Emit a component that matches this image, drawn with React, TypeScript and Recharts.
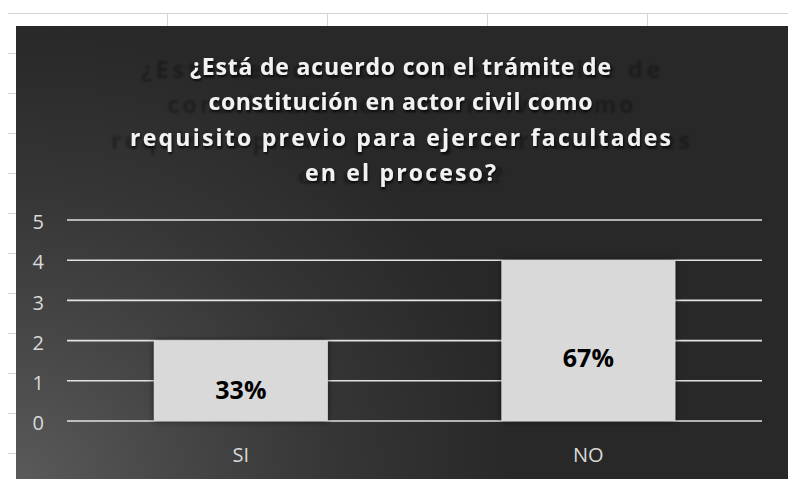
import { BarChart, Bar, XAxis, YAxis, CartesianGrid, LabelList } from 'recharts';

const categories = ['SI', 'NO'];
const counts = [2, 4];
const percentLabels = ['33%', '67%'];
const yTicks = [0, 1, 2, 3, 4, 5];
const titleLines = [
  '¿Está de acuerdo con el trámite de',
  'constitución en actor civil como',
  'requisito previo para ejercer facultades',
  'en el proceso?',
];

const data = categories.map((name, i) => ({ name, value: counts[i], pct: percentLabels[i] }));

const BOX_W = 775;
const BOX_H = 457;
const FONT = '"Open Sans", sans-serif';

const titleBase = [49, 84, 120, 155];
const titleWidth = [421, 384, 541, 191];
const ghostWidth = [519, 466, 579, 205];

const PctLabel = (props: any) => {
  const { x, y, width, height, value } = props;
  return (
    <text
      x={x + width / 2}
      y={y + height * 0.6}
      textAnchor="middle"
      dominantBaseline="central"
      fontFamily={FONT}
      fontWeight={700}
      fontSize={25}
      fill="#000"
    >
      {value}
    </text>
  );
};

const ShadowBar = (props: any) => {
  const { x, y, width, height, fill } = props;
  return <rect x={x} y={y} width={width} height={height} fill={fill} filter="url(#barShadow)" />;
};

export default function App() {
  return (
    <div style={{ position: 'relative', width: 796, height: 487, margin: -8, background: '#fff', overflow: 'hidden' }}>
      <svg width={0} height={0} style={{ position: 'absolute' }}>
        <defs>
          <filter id="barShadow" x="-10%" y="-10%" width="120%" height="120%">
            <feDropShadow dx={0} dy={0} stdDeviation={3} floodColor="#000" floodOpacity={0.55} />
          </filter>
          <filter id="titleShadow" x="-5%" y="-20%" width="110%" height="160%">
            <feDropShadow dx={1} dy={2} stdDeviation={1.2} floodColor="#000" floodOpacity={0.7} />
          </filter>
          <filter id="ghostBlur">
            <feGaussianBlur stdDeviation={1.2} />
          </filter>
        </defs>
      </svg>
      {/* spreadsheet cells behind the chart */}
      <div
        style={{
          position: 'absolute',
          left: 7,
          top: 13,
          width: 789,
          height: 474,
          backgroundImage:
            'repeating-linear-gradient(to right, #d4d4d4 0 1px, transparent 1px 160px), repeating-linear-gradient(to bottom, #d4d4d4 0 1px, transparent 1px 40px)',
        }}
      />
      <div
        style={{
          position: 'absolute',
          left: 16,
          top: 26,
          width: BOX_W,
          height: BOX_H,
          backgroundColor: '#282828',
          backgroundImage:
            'radial-gradient(ellipse 500px 460px at 0% 100%, #5a5a5a 0%, #484848 30%, #353535 65%, #282828 100%)',
        }}
      >
        <BarChart
          width={BOX_W}
          height={BOX_H}
          data={data}
          margin={{ top: 194, right: 29, bottom: 32, left: 0 }}
          barCategoryGap="25%"
        >
          <CartesianGrid vertical={false} stroke="#e2e2e2" strokeWidth={1.6} />
          <XAxis
            dataKey="name"
            height={30}
            axisLine={false}
            tickLine={false}
            tickSize={0}
            tickMargin={27}
            tick={{ fill: '#d9d9d9', fontSize: 20, fontFamily: FONT }}
          />
          <YAxis
            domain={[0, 5]}
            ticks={yTicks}
            width={51}
            axisLine={false}
            tickLine={false}
            tickSize={0}
            tickMargin={23}
            tick={{ fill: '#d9d9d9', fontSize: 20, fontFamily: FONT, dy: 2 }}
          />
          <Bar dataKey="value" fill="#d9d9d9" isAnimationActive={false} shape={ShadowBar}>
            <LabelList dataKey="pct" content={PctLabel} />
          </Bar>
        </BarChart>
        <svg
          width={BOX_W}
          height={BOX_H}
          style={{ position: 'absolute', left: 0, top: 0, pointerEvents: 'none' }}
        >
          {titleLines.map((line, i) => (
            <text
              key={'g' + i}
              x={384.5}
              y={titleBase[i] + 3}
              textAnchor="middle"
              textLength={ghostWidth[i]}
              lengthAdjust="spacing"
              fontFamily={FONT}
              fontWeight={700}
              fontSize={23}
              fill="#000"
              opacity={0.3}
              filter="url(#ghostBlur)"
            >
              {line}
            </text>
          ))}
          {titleLines.map((line, i) => (
            <text
              key={'t' + i}
              x={384.5}
              y={titleBase[i]}
              textAnchor="middle"
              textLength={titleWidth[i]}
              lengthAdjust="spacing"
              fontFamily={FONT}
              fontWeight={700}
              fontSize={23}
              fill="#f2f2f2"
              filter="url(#titleShadow)"
            >
              {line}
            </text>
          ))}
        </svg>
      </div>
    </div>
  );
}
